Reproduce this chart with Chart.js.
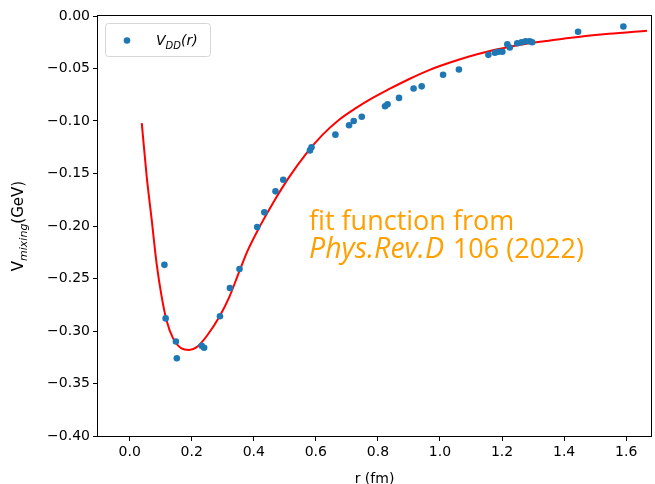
<!DOCTYPE html>
<html>
<head>
<meta charset="utf-8">
<script src="https://cdn.jsdelivr.net/npm/chart.js@4"></script>
<style>
  html, body { margin: 0; padding: 0; background: #fff; }
  #wrap { width: 655px; height: 484px; }
</style>
</head>
<body>
<div id="wrap"><canvas id="potentialChart" width="655" height="484"></canvas></div>
<script>
// lattice points V_DD(r)
const pointR = [0.112, 0.116, 0.149, 0.152, 0.232, 0.240, 0.291, 0.323, 0.354, 0.411, 0.434, 0.470, 0.495,
    0.581, 0.586, 0.663, 0.707, 0.722, 0.748, 0.823, 0.831, 0.868, 0.915, 0.941, 1.010, 1.061,
    1.156, 1.177, 1.188, 1.201, 1.217, 1.225, 1.249, 1.263, 1.276, 1.289, 1.297, 1.445, 1.591];
const pointV = [-0.237, -0.288, -0.310, -0.326, -0.314, -0.316, -0.286, -0.259, -0.241, -0.201, -0.187, -0.167, -0.156,
    -0.128, -0.125, -0.113, -0.104, -0.100, -0.096, -0.086, -0.084, -0.078, -0.069, -0.067, -0.056, -0.051,
    -0.037, -0.035, -0.034, -0.034, -0.027, -0.030, -0.026, -0.025, -0.024, -0.024, -0.025, -0.015, -0.010];

// fit curve samples
const fitR = [0.039, 0.055, 0.071, 0.087, 0.103, 0.119, 0.140, 0.167, 0.191, 0.215, 0.248, 0.290, 0.322, 0.355,
    0.381, 0.419, 0.462, 0.515, 0.569, 0.622, 0.676, 0.730, 0.783, 0.837, 0.901, 0.965, 1.030, 1.094,
    1.158, 1.222, 1.287, 1.351, 1.415, 1.544, 1.667];
const fitV = [-0.102, -0.153, -0.194, -0.236, -0.267, -0.290, -0.307, -0.3165, -0.318, -0.3156, -0.305, -0.286, -0.267, -0.242,
    -0.223, -0.2006, -0.178, -0.153, -0.131, -0.113, -0.0985, -0.0875, -0.078, -0.0695, -0.060, -0.0515, -0.0445, -0.0385,
    -0.0335, -0.0295, -0.026, -0.0235, -0.021, -0.017, -0.014];

const xTicks = [0.0, 0.2, 0.4, 0.6, 0.8, 1.0, 1.2, 1.4, 1.6];
const yTicks = [0.00, -0.05, -0.10, -0.15, -0.20, -0.25, -0.30, -0.35, -0.40];

Chart.defaults.font.family = "'DejaVu Sans', sans-serif";
Chart.defaults.font.size = 14;
Chart.defaults.color = '#000';

function minusSign(s) {
    return s.replace('-', '\u2212');
}

// text with a smaller, lowered subscript in the middle
function drawSubText(ctx, x, y, parts, size, italicBase) {
    const [base, sub, tail] = parts;
    const style = italicBase ? 'italic ' : '';
    ctx.font = `${style}${size}px 'DejaVu Sans'`;
    ctx.fillText(base, x, y);
    x += ctx.measureText(base).width;
    ctx.font = `italic ${Math.round(size * 0.72)}px 'DejaVu Sans'`;
    ctx.fillText(sub, x, y + size * 0.25);
    x += ctx.measureText(sub).width;
    ctx.font = `${style}${size}px 'DejaVu Sans'`;
    ctx.fillText(tail, x, y);
}

function subTextWidth(ctx, parts, size, italicBase) {
    const [base, sub, tail] = parts;
    const style = italicBase ? 'italic ' : '';
    ctx.font = `${style}${size}px 'DejaVu Sans'`;
    let w = ctx.measureText(base).width + ctx.measureText(tail).width;
    ctx.font = `italic ${Math.round(size * 0.72)}px 'DejaVu Sans'`;
    return w + ctx.measureText(sub).width;
}

const decorations = {
    id: 'decorations',
    afterDraw(chart) {
        const ctx = chart.ctx;
        const a = chart.chartArea;
        ctx.save();

        // frame
        ctx.strokeStyle = '#000';
        ctx.lineWidth = 1;
        ctx.strokeRect(Math.round(a.left) - 0.5, Math.round(a.top) - 0.5,
            Math.round(a.right - a.left) + 1, Math.round(a.bottom - a.top) + 1);

        // legend
        ctx.beginPath();
        ctx.roundRect(105.5, 23.5, 105, 33, 3);
        ctx.fillStyle = 'rgba(255,255,255,0.8)';
        ctx.fill();
        ctx.strokeStyle = '#d6d6d6';
        ctx.stroke();
        ctx.beginPath();
        ctx.arc(127, 40.5, 3.3, 0, Math.PI * 2);
        ctx.fillStyle = '#1f77b4';
        ctx.fill();
        ctx.fillStyle = '#000';
        ctx.textBaseline = 'alphabetic';
        ctx.textAlign = 'left';
        drawSubText(ctx, 156, 45, ['V', 'DD', '(r)'], 14, true);

        // x axis title
        ctx.font = "14px 'DejaVu Sans'";
        ctx.textAlign = 'center';
        ctx.fillText('r (fm)', (a.left + a.right) / 2, 483);

        // y axis title
        ctx.save();
        ctx.translate(23, (a.top + a.bottom) / 2);
        ctx.rotate(-Math.PI / 2);
        const ylab = ['V', 'mixing', '(GeV)'];
        const w = subTextWidth(ctx, ylab, 15, false);
        ctx.textAlign = 'left';
        drawSubText(ctx, -w / 2, 0, ylab, 15, false);
        ctx.restore();

        // fit source note
        ctx.fillStyle = '#ffa000';
        ctx.textAlign = 'left';
        ctx.font = "27px 'Open Sans'";
        ctx.fillText('fit function from', 309, 230);
        ctx.font = "italic 28.5px 'Open Sans'";
        ctx.fillText('Phys.Rev.D', 309, 258);
        const pw = ctx.measureText('Phys.Rev.D').width;
        ctx.font = "27px 'Open Sans'";
        ctx.fillText(' 106 (2022)', 309 + pw + 2, 258);

        ctx.restore();
    }
};

new Chart(document.getElementById('potentialChart'), {
    type: 'scatter',
    data: {
        datasets: [{
            label: 'fit',
            type: 'line',
            data: fitR.map((r, i) => ({ x: r, y: fitV[i] })),
            borderColor: '#ff0000',
            borderWidth: 2,
            pointRadius: 0,
            cubicInterpolationMode: 'monotone',
            fill: false,
            order: 2
        }, {
            label: 'V_DD(r)',
            data: pointR.map((r, i) => ({ x: r, y: pointV[i] })),
            backgroundColor: '#1f77b4',
            borderWidth: 0,
            pointRadius: 3.3,
            order: 1
        }]
    },
    options: {
        responsive: false,
        animation: false,
        layout: { padding: { top: 16, right: 3, left: 0, bottom: 0 } },
        plugins: {
            legend: { display: false },
            tooltip: { enabled: false }
        },
        scales: {
            x: {
                type: 'linear',
                min: -0.102,
                max: 1.68,
                afterBuildTicks: (scale) => { scale.ticks = xTicks.map(v => ({ value: v })); },
                afterFit: (scale) => { scale.height = 48; },
                border: { display: false },
                grid: { drawOnChartArea: false, drawTicks: true, tickLength: 5, tickColor: '#000' },
                ticks: {
                    padding: 3,
                    maxRotation: 0,
                    callback: (v) => Number(v).toFixed(1)
                }
            },
            y: {
                type: 'linear',
                min: -0.4,
                max: 0,
                afterBuildTicks: (scale) => { scale.ticks = yTicks.map(v => ({ value: v })); },
                afterFit: (scale) => { scale.width = 98; },
                border: { display: false },
                grid: { drawOnChartArea: false, drawTicks: true, tickLength: 5, tickColor: '#000' },
                ticks: {
                    padding: 3,
                    callback: (v) => minusSign(Number(v).toFixed(2))
                }
            }
        }
    },
    plugins: [decorations]
});
</script>
</body>
</html>
